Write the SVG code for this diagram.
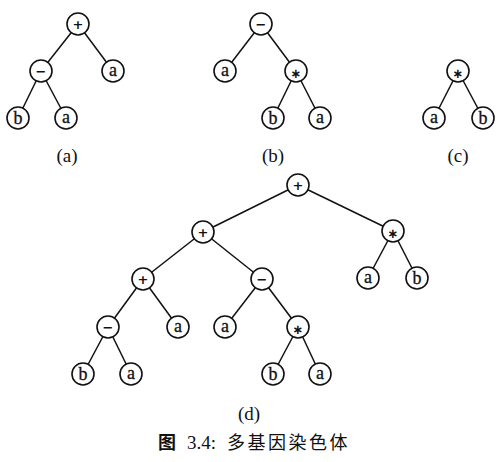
<svg xmlns="http://www.w3.org/2000/svg" width="499" height="462" viewBox="0 0 499 462">
<style>
.e line{stroke:#111;stroke-width:1.5}
.n circle{fill:#fff;stroke:#111;stroke-width:1.6}
.n text{font-family:"Liberation Serif","DejaVu Serif",serif;font-size:18px;text-anchor:middle;fill:#111;stroke:#111;stroke-width:0.3}
.n text.op{font-family:"DejaVu Sans",sans-serif;font-size:13px;font-weight:bold;stroke:none}
.lab{font-family:"Liberation Serif",serif;font-size:19px;text-anchor:middle;fill:#111}
.cap{font-family:"Liberation Serif","Noto Sans CJK SC",serif;font-size:18px;fill:#111}
</style>
<rect width="499" height="462" fill="#fff"/>
<g id="connectors" class="e">
<line x1="78" y1="24" x2="41" y2="71"/><line x1="78" y1="24" x2="113" y2="71"/>
<line x1="41" y1="71" x2="18" y2="118"/><line x1="41" y1="71" x2="66" y2="118"/>
<line x1="261" y1="24" x2="225" y2="71"/><line x1="261" y1="24" x2="296" y2="71"/>
<line x1="296" y1="71" x2="273" y2="118"/><line x1="296" y1="71" x2="320" y2="118"/>
<line x1="458" y1="71" x2="434" y2="118"/><line x1="458" y1="71" x2="483" y2="118"/>
<line x1="298" y1="185" x2="203" y2="232"/><line x1="298" y1="185" x2="393" y2="231"/>
<line x1="393" y1="231" x2="368" y2="278"/><line x1="393" y1="231" x2="417" y2="278"/>
<line x1="203" y1="232" x2="143" y2="279"/><line x1="203" y1="232" x2="262" y2="279"/>
<line x1="143" y1="279" x2="108" y2="327"/><line x1="143" y1="279" x2="178" y2="327"/>
<line x1="108" y1="327" x2="83" y2="374"/><line x1="108" y1="327" x2="131" y2="374"/>
<line x1="262" y1="279" x2="225" y2="327"/><line x1="262" y1="279" x2="298" y2="327"/>
<line x1="298" y1="327" x2="273" y2="374"/><line x1="298" y1="327" x2="320" y2="374"/>
</g>
<g id="tree-a">
<g id="a1" class="n"><circle cx="78" cy="24" r="11"/><text class="op" x="78" y="29">+</text></g>
<g id="a2" class="n"><circle cx="41" cy="71" r="11"/><text class="op" x="41" y="76">−</text></g>
<g id="a3" class="n"><circle cx="113" cy="71" r="11"/><text x="113" y="76">a</text></g>
<g id="a4" class="n"><circle cx="18" cy="118" r="11"/><text x="18" y="124">b</text></g>
<g id="a5" class="n"><circle cx="66" cy="118" r="11"/><text x="66" y="123">a</text></g>
</g>
<g id="tree-b">
<g id="b1" class="n"><circle cx="261" cy="24" r="11"/><text class="op" x="261" y="29">−</text></g>
<g id="b2" class="n"><circle cx="225" cy="71" r="11"/><text x="225" y="76">a</text></g>
<g id="b3" class="n"><circle cx="296" cy="71" r="11"/><text class="op" x="296" y="78">∗</text></g>
<g id="b4" class="n"><circle cx="273" cy="118" r="11"/><text x="273" y="124">b</text></g>
<g id="b5" class="n"><circle cx="320" cy="118" r="11"/><text x="320" y="123">a</text></g>
</g>
<g id="tree-c">
<g id="c1" class="n"><circle cx="458" cy="71" r="11"/><text class="op" x="458" y="78">∗</text></g>
<g id="c2" class="n"><circle cx="434" cy="118" r="11"/><text x="434" y="123">a</text></g>
<g id="c3" class="n"><circle cx="483" cy="118" r="11"/><text x="483" y="124">b</text></g>
</g>
<g id="tree-d">
<g id="d1" class="n"><circle cx="298" cy="185" r="11"/><text class="op" x="298" y="190">+</text></g>
<g id="d2" class="n"><circle cx="203" cy="232" r="11"/><text class="op" x="203" y="237">+</text></g>
<g id="d3" class="n"><circle cx="393" cy="231" r="11"/><text class="op" x="393" y="238">∗</text></g>
<g id="d4" class="n"><circle cx="368" cy="278" r="11"/><text x="368" y="283">a</text></g>
<g id="d5" class="n"><circle cx="417" cy="278" r="11"/><text x="417" y="284">b</text></g>
<g id="d6" class="n"><circle cx="143" cy="279" r="11"/><text class="op" x="143" y="284">+</text></g>
<g id="d7" class="n"><circle cx="262" cy="279" r="11"/><text class="op" x="262" y="284">−</text></g>
<g id="d8" class="n"><circle cx="108" cy="327" r="11"/><text class="op" x="108" y="332">−</text></g>
<g id="d9" class="n"><circle cx="178" cy="327" r="11"/><text x="178" y="332">a</text></g>
<g id="d10" class="n"><circle cx="225" cy="327" r="11"/><text x="225" y="332">a</text></g>
<g id="d11" class="n"><circle cx="298" cy="327" r="11"/><text class="op" x="298" y="334">∗</text></g>
<g id="d12" class="n"><circle cx="83" cy="374" r="11"/><text x="83" y="380">b</text></g>
<g id="d13" class="n"><circle cx="131" cy="374" r="11"/><text x="131" y="379">a</text></g>
<g id="d14" class="n"><circle cx="273" cy="374" r="11"/><text x="273" y="380">b</text></g>
<g id="d15" class="n"><circle cx="320" cy="374" r="11"/><text x="320" y="379">a</text></g>
</g>
<text class="lab" x="67" y="162">(a)</text>
<text class="lab" x="273" y="162">(b)</text>
<text class="lab" x="458" y="162">(c)</text>
<text class="lab" x="249" y="420">(d)</text>
<text class="cap" y="449"><tspan x="158" font-family="Noto Sans CJK SC,sans-serif" font-weight="bold">图</tspan><tspan x="187" font-size="19">3.4:</tspan><tspan x="227" font-family="Noto Sans CJK SC,sans-serif" letter-spacing="2.5">多基因染色体</tspan></text>
</svg>
